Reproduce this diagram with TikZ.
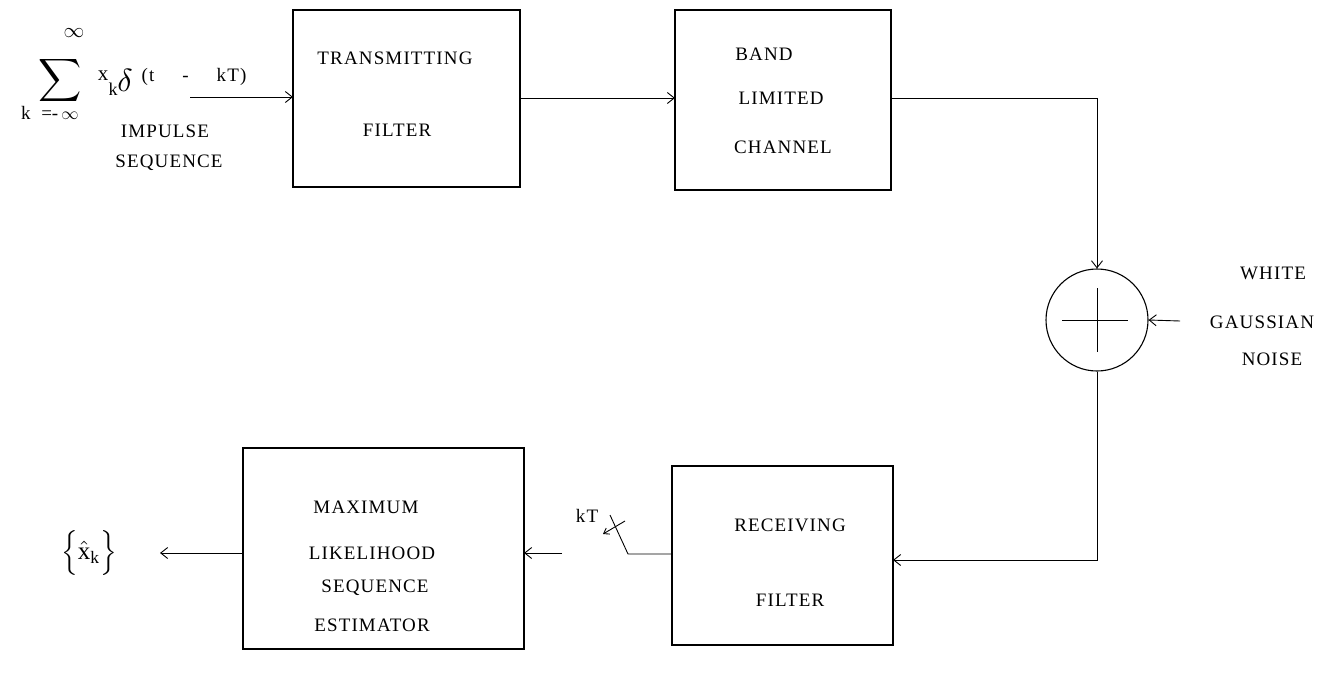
\documentclass[tikz,border=0pt]{standalone}
\usepackage{amsmath}
\usepackage{fontspec}
\setmainfont{Liberation Serif}
\newfontfamily\tw{Liberation Serif}[LetterSpace=6]
\usetikzlibrary{arrows.meta}
\begin{document}
\begin{tikzpicture}[x=1pt,y=-1pt,
  blk/.style={draw,line width=1.3pt},
  con/.style={line width=0.9pt},
  arr/.style={con,-{Straight Barb[length=7pt,width=11pt]}},
  lbl/.style={font=\tw\fontsize{19}{19}\selectfont,inner sep=0pt}]
\useasboundingbox (0,0) rectangle (1325,675);
% transmitting filter
\draw[blk] (293,10) rectangle (520,187);
\node[lbl] (tx1) at (395,58) {TRANSMITTING};
\node[lbl] (tx2) at (397,130) {FILTER};
\coordinate (txw) at (293,97);
\coordinate (txe) at (520,98);
% channel
\draw[blk] (675,10) rectangle (891,190);
\node[lbl] (ch1) at (764,54) {BAND};
\node[lbl] (ch2) at (781,98) {LIMITED};
\node[lbl] (ch3) at (783,147) {CHANNEL};
\coordinate (chw) at (675,98);
\coordinate (che) at (891,98);
% adder
\node[draw,circle,line width=1.1pt,minimum size=102pt,inner sep=0pt] (add) at (1097,320) {};
\draw[con] (1097,288) -- (1097,352);
\draw[con] (1062,320) -- (1128,320);
\node[lbl] (n1) at (1273,273) {WHITE};
\node[lbl] (n2) at (1262,322) {GAUSSIAN};
\node[lbl] (n3) at (1272,359) {NOISE};
\coordinate (nz) at (1180,321);
% receiving filter
\draw[blk] (672,466) rectangle (893,645);
\node[lbl] (rx1) at (790,525) {RECEIVING};
\node[lbl] (rx2) at (790,600) {FILTER};
\coordinate (rxe) at (893,560);
\coordinate (rxw) at (672,554);
% MLSE
\draw[blk] (243,448) rectangle (524,649);
\node[lbl] (ml1) at (366,507) {MAXIMUM};
\node[lbl] (ml2) at (372,553) {LIKELIHOOD};
\node[lbl] (ml3) at (375,588) {SEQUENCE};
\node[lbl] (ml4) at (372,625) {ESTIMATOR};
\coordinate (mle) at (524,553);
\coordinate (mlw) at (243,553);
% input expression
\node[inner sep=0pt] (sum) at (60,80) {\scalebox{3}{$\displaystyle\sum$}};
\node[inner sep=0pt,font=\fontsize{20}{20}\selectfont] (inf) at (74,33) {$\infty$};
\node[inner sep=0pt,font=\fontsize{19}{19}\selectfont] (low) at (50,113) {k\;\;=-\,$\infty$};
\node[inner sep=0pt,font=\fontsize{21}{21}\selectfont] (xk) at (103,76) {x};
\node[inner sep=0pt,font=\fontsize{18}{18}\selectfont] (kk) at (113,89) {k};
\node[inner sep=0pt] (del) at (125,80) {\scalebox{3.2}{$\delta$}};
\node[lbl] (targ) at (194,77) {(t\hspace{28pt}-\hspace{28pt}kT)};
\node[lbl] (im1) at (165,131) {IMPULSE};
\node[lbl] (im2) at (169,163) {SEQUENCE};
\coordinate (ins) at (190,97);
% connectors
\draw[arr] (ins) -- (txw);
\draw[arr] (txe) -- (chw);
\draw[arr] (che) -| (add.north);
\draw[arr] (nz) -- (add.east);
\draw[arr] (add.south) |- (rxe);
% sampling switch
\coordinate (sw1) at (628,554);
\coordinate (sw2) at (610,515);
\draw[con] (rxw) -- (sw1) -- (sw2);
\coordinate (sa1) at (625,521);
\coordinate (sa2) at (603,534);
\draw[con,-{Straight Barb[length=5pt,width=7pt]}] (sa1) -- (sa2);
\node[lbl] (kt) at (587,516) {kT};
\coordinate (sws) at (562,553);
\draw[arr] (sws) -- (mle);
\coordinate (oute) at (160,553);
\draw[arr] (mlw) -- (oute);
\node[inner sep=0pt] (out) at (89,553) {\scalebox{2.5}{$\Big\{\hat{\text{x}}_{\text{k}}\Big\}$}};
\end{tikzpicture}
\end{document}
